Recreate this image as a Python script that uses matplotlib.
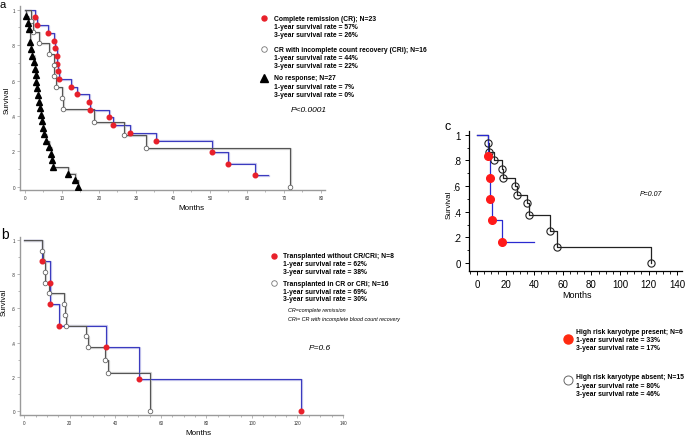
import numpy as np
import matplotlib
matplotlib.use("Agg")
import matplotlib.pyplot as plt
import matplotlib.transforms as mtransforms
from matplotlib.ticker import MultipleLocator, FixedLocator

plt.rcParams['font.family'] = ['Liberation Sans', 'DejaVu Sans']

W, H = 685, 439

# ---- panel a: response groups
a_cr_t = [2.7, 3.3, 6.3, 7.8, 8.2, 8.6, 8.7, 9.0, 9.1, 12.4, 14.1, 17.3, 17.7,
          22.8, 23.9, 28.4, 35.3, 50.5, 55.0, 62.3]
a_cr_s = [0.957, 0.913, 0.870, 0.826, 0.783, 0.739, 0.696, 0.652, 0.609, 0.565,
          0.522, 0.478, 0.435, 0.391, 0.348, 0.304, 0.261, 0.196, 0.130, 0.065]
a_cr_end = 65.8
a_cri_t = [1.6, 2.1, 3.9, 6.6, 7.8, 7.9, 8.5, 10.0, 10.4, 18.6, 26.8, 32.6, 71.7]
a_cri_s = [0.938, 0.875, 0.813, 0.750, 0.688, 0.625, 0.563, 0.500, 0.438,
           0.365, 0.292, 0.219, 0.0]
a_nr_t = [0.3, 0.7, 1.0, 1.4, 1.7, 2.0, 2.3, 2.6, 2.9, 3.1, 3.2, 3.4, 3.7, 4.1,
          4.4, 4.7, 4.9, 5.1, 5.7, 6.4, 7.0, 7.4, 7.7, 11.7, 13.5, 14.4]
a_nr_s = [0.963, 0.926, 0.889, 0.815, 0.778, 0.741, 0.704, 0.667, 0.630, 0.593,
          0.556, 0.519, 0.481, 0.444, 0.407, 0.370, 0.333, 0.296, 0.259, 0.222,
          0.185, 0.148, 0.111, 0.074, 0.037, 0.0]

# ---- panel b: transplanted
b_nocr_t = [7.9, 11.3, 11.3, 15.4, 35.7, 50.5, 121.4]
b_nocr_s = [0.875, 0.75, 0.625, 0.5, 0.375, 0.1875, 0.0]
b_cr_t = [7.8, 8.0, 8.9, 8.9, 10.7, 17.3, 17.7, 18.4, 26.9, 28.1, 35.4, 36.9, 55.0]
b_cr_s = [0.938, 0.875, 0.813, 0.75, 0.688, 0.625, 0.563, 0.5, 0.438, 0.375,
          0.3, 0.225, 0.0]

# ---- panel c: karyotype
c_pres_t = [7.8, 8.9, 8.9, 10.6, 17.4]
c_pres_s = [0.833, 0.667, 0.5, 0.333, 0.167]
c_pres_end = 40
c_abs_t = [7.8, 8.5, 11.8, 17.8, 18.4, 26.5, 27.9, 35.2, 36.6, 51.3, 56.0, 121.4]
c_abs_s = [0.933, 0.867, 0.8, 0.733, 0.667, 0.6, 0.533, 0.467, 0.373, 0.249,
           0.124, 0.0]

y_ticks = [0, 0.2, 0.4, 0.6, 0.8, 1]
y_ticklabels = ['0', '.2', '.4', '.6', '.8', '1']

a_legend = [["Complete remission (CR); N=23", "1-year survival rate = 57%", "3-year survival rate = 26%"],
            ["CR with incomplete count recovery (CRi); N=16", "1-year survival rate = 44%", "3-year survival rate = 22%"],
            ["No response; N=27", "1-year survival rate = 7%", "3-year survival rate = 0%"]]
b_legend = [["Transplanted without CR/CRi; N=8", "1-year survival rate = 62%", "3-year survival rate = 38%"],
            ["Transplanted in CR or CRi; N=16", "1-year survival rate = 69%", "3-year survival rate = 30%"]]
c_legend = [["High risk karyotype present; N=6", "1-year survival rate = 33%", "3-year survival rate = 17%"],
            ["High risk karyotype absent; N=15", "1-year survival rate = 80%", "3-year survival rate = 46%"]]


def px_axes(fig, x0, y0, x1, y1):
    # add axes from pixel box (top-left origin)
    return fig.add_axes([x0 / W, 1 - y1 / H, (x1 - x0) / W, (y1 - y0) / H])


def fx(x):
    return x / W


def fy(y):
    return 1 - y / H


def km_step(ax, t, s, color, shadow=None, end=None, lw=0.8):
    x = [0] + list(t)
    y = [1] + list(s)
    if end is not None:
        x.append(end)
        y.append(s[-1])
    if shadow is not None:
        tr = mtransforms.offset_copy(ax.transData, fig=ax.figure, x=1.0, y=-0.8, units='dots')
        ax.step(x, y, where='post', color=shadow, lw=1.6, transform=tr, zorder=1)
    ax.step(x, y, where='post', color=color, lw=lw, zorder=2)


def style_small(ax, xmax_major, xminor):
    for sp in ['top', 'right']:
        ax.spines[sp].set_visible(False)
    for sp in ['left', 'bottom']:
        ax.spines[sp].set_color('#9a9a9a')
        ax.spines[sp].set_linewidth(1.0)
    ax.xaxis.set_major_locator(MultipleLocator(xmax_major))
    ax.xaxis.set_minor_locator(MultipleLocator(xminor))
    ax.yaxis.set_major_locator(FixedLocator(y_ticks))
    ax.yaxis.set_minor_locator(MultipleLocator(0.1))
    ax.set_yticklabels(y_ticklabels)
    ax.tick_params(which='both', colors='#9a9a9a', labelcolor='#333333',
                   labelsize=3.3, length=2, width=0.5, pad=1.5)
    ax.tick_params(which='minor', length=1.2)


fig = plt.figure(figsize=(W / 100, H / 100), dpi=100)

# ================= panel a
ax = px_axes(fig, 20, 7, 325, 190.7)
km_step(ax, a_cr_t, a_cr_s, '#3b3bbf', shadow='#c4c4ec', end=a_cr_end)
km_step(ax, a_cri_t, a_cri_s, '#555555', shadow='#cfcfcf')
km_step(ax, a_nr_t, a_nr_s, '#555555', shadow='#cfcfcf')
ax.plot(a_cr_t, a_cr_s, 'o', ms=3.3, mfc='#e8202a', mec='#e8202a', zorder=4)
ax.plot(a_cri_t, a_cri_s, 'o', ms=3.3, mfc='white', mec='#666666', mew=0.6, zorder=4)
ax.plot(a_nr_t, a_nr_s, '^', ms=4.0, mfc='black', mec='black', zorder=4)
ax.set_xlim(-1.35, 81.1)
ax.set_ylim(-0.017, 1.021)
style_small(ax, 10, 5)
fig.text(fx(7), fy(100), 'Survival', rotation=90, ha='center', va='center', fontsize=5.5)
fig.text(fx(191), fy(209), 'Months', ha='center', va='center', fontsize=5.8)
fig.text(fx(0), fy(5), 'a', ha='left', va='center', fontsize=8)

a_markers = [dict(marker='o', ms=3.6, mfc='#e8202a', mec='#e8202a'),
             dict(marker='o', ms=4.0, mfc='white', mec='#777777', mew=0.6),
             dict(marker='^', ms=5.5, mfc='black', mec='black')]
a_rows = [19.3, 50, 79]
for rows, mk, y0 in zip(a_legend, a_markers, a_rows):
    fig.lines.append(plt.Line2D([fx(264)], [fy(y0)], transform=fig.transFigure, **mk))
    for i, line in enumerate(rows):
        fig.text(fx(274), fy(y0 + i * 8.3), line, ha='left', va='center',
                 fontsize=4.9, fontweight='bold')
fig.text(fx(291), fy(110), 'P<0.0001', ha='left', va='center', fontsize=6,
         style='italic')

# ================= panel b
ax = px_axes(fig, 20, 238, 343, 416)
km_step(ax, b_nocr_t, b_nocr_s, '#3b3bbf', shadow='#c4c4ec')
km_step(ax, b_cr_t, b_cr_s, '#555555', shadow='#cfcfcf')
ax.plot(b_cr_t, b_cr_s, 'o', ms=3.3, mfc='white', mec='#666666', mew=0.6, zorder=4)
ax.plot(b_nocr_t, b_nocr_s, 'o', ms=3.3, mfc='#e8202a', mec='#e8202a', zorder=4)
ax.set_xlim(-1.9, 140)
ax.set_ylim(-0.023, 1.018)
style_small(ax, 20, 5)
fig.text(fx(4), fy(302), 'Survival', rotation=90, ha='center', va='center', fontsize=5.5)
fig.text(fx(198), fy(434), 'Months', ha='center', va='center', fontsize=5.8)
fig.text(fx(1), fy(235), 'b', ha='left', va='center', fontsize=10)

b_markers = [dict(marker='o', ms=3.6, mfc='#e8202a', mec='#e8202a'),
             dict(marker='o', ms=4.0, mfc='white', mec='#777777', mew=0.6)]
b_rows = [257, 284]
for rows, mk, y0 in zip(b_legend, b_markers, b_rows):
    fig.lines.append(plt.Line2D([fx(274)], [fy(y0)], transform=fig.transFigure, **mk))
    for i, line in enumerate(rows):
        fig.text(fx(283), fy(y0 + i * 8.0), line, ha='left', va='center',
                 fontsize=4.9, fontweight='bold')
fig.text(fx(288), fy(311), 'CR=complete remission', ha='left', va='center',
         fontsize=3.9, style='italic')
fig.text(fx(288), fy(320), 'CRi= CR with incomplete blood count recovery',
         ha='left', va='center', fontsize=3.9, style='italic')
fig.text(fx(309), fy(349), 'P=0.6', ha='left', va='center', fontsize=6,
         style='italic')

# ================= panel c
ax = px_axes(fig, 469, 132, 682, 272)
km_step(ax, c_abs_t, c_abs_s, '#222222', lw=0.9)
km_step(ax, c_pres_t, c_pres_s, '#2a2ad0', end=c_pres_end, lw=0.9)
ax.plot(c_abs_t, c_abs_s, 'o', ms=5.2, mfc='none', mec='#222222', mew=0.8, zorder=4)
ax.plot(c_pres_t, c_pres_s, 'o', ms=5.5, mfc='#ff1a1a', mec='#ff1a1a', zorder=5)
ax.set_xlim(-5.6, 143.4)
ax.set_ylim(-0.0625, 1.03)
for sp in ['top', 'right']:
    ax.spines[sp].set_visible(False)
for sp in ['left', 'bottom']:
    ax.spines[sp].set_linewidth(0.9)
ax.xaxis.set_major_locator(MultipleLocator(20))
ax.xaxis.set_minor_locator(MultipleLocator(5))
ax.yaxis.set_major_locator(FixedLocator(y_ticks))
ax.yaxis.set_minor_locator(MultipleLocator(0.1))
ax.set_yticklabels(y_ticklabels)
ax.tick_params(which='major', labelsize=7, length=3, width=0.7, pad=3)
ax.tick_params(which='minor', length=1.8, width=0.6)
fig.text(fx(449), fy(205), 'Survival', rotation=90, ha='center', va='center', fontsize=5.8)
fig.text(fx(577), fy(295), 'Months', ha='center', va='center', fontsize=6.5)
fig.text(fx(448), fy(127), 'c', ha='center', va='center', fontsize=9)
fig.text(fx(640), fy(195), 'P=0.07', ha='left', va='center', fontsize=5,
         style='italic')

c_markers = [dict(marker='o', ms=6.5, mfc='#ff2a10', mec='#ff2a10'),
             dict(marker='o', ms=6.5, mfc='white', mec='#666666', mew=0.7)]
c_rows = [332, 378]
c_mark_y = [340, 381]
for rows, mk, y0, ym in zip(c_legend, c_markers, c_rows, c_mark_y):
    fig.lines.append(plt.Line2D([fx(568)], [fy(ym)], transform=fig.transFigure, **mk))
    for i, line in enumerate(rows):
        fig.text(fx(576), fy(y0 + i * 8.3), line, ha='left', va='center',
                 fontsize=4.9, fontweight='bold')

fig.savefig('out.png', dpi=100)
